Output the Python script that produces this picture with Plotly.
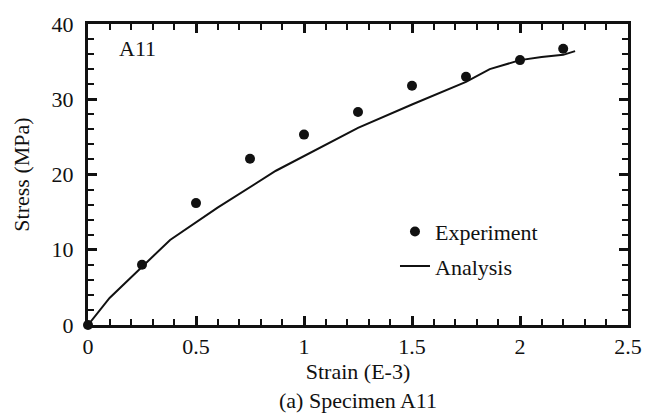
import plotly.graph_objects as go

# Experiment data
exp_strain = [0.0, 0.25, 0.5, 0.75, 1.0, 1.25, 1.5, 1.75, 2.0, 2.2]
exp_stress = [0.0, 8.0, 16.2, 22.1, 25.3, 28.3, 31.8, 33.0, 35.2, 36.7]

# Analysis curve
ana_strain = [0.0, 0.1, 0.38, 0.6, 0.87, 1.25, 1.5, 1.75, 1.86, 2.0, 2.1, 2.2, 2.255]
ana_stress = [0.0, 3.6, 11.3, 15.6, 20.5, 26.2, 29.3, 32.3, 34.0, 35.2, 35.6, 35.9, 36.4]

# Axis settings
x_range = [0, 2.5]
y_range = [0, 40]
x_ticks = [0, 0.5, 1, 1.5, 2, 2.5]
x_ticklabels = ["0", "0.5", "1", "1.5", "2", "2.5"]
y_ticks = [0, 10, 20, 30, 40]
y_ticklabels = ["0", "10", "20", "30", "40"]

FONT = "Liberation Serif"
FS = 22
INK = "#111111"

fig = go.Figure()
fig.add_trace(go.Scatter(
    x=exp_strain, y=exp_stress, mode="markers", name="Experiment",
    legendgroup="e",
    marker=dict(color=INK, size=10), cliponaxis=False))
fig.add_trace(go.Scatter(
    x=ana_strain, y=ana_stress, mode="lines", name="Analysis",
    legendgroup="a",
    line=dict(color=INK, width=2)))

tick_common = dict(
    showline=True, linecolor=INK, linewidth=2.5, mirror="allticks",
    ticks="inside", ticklen=9, tickwidth=2.5, tickcolor=INK,
    showgrid=False, zeroline=False, layer="above traces",
    tickfont=dict(family=FONT, size=FS, color=INK),
)
x_minor = dict(dtick=0.1, tick0=0, ticks="inside", ticklen=6, tickwidth=2, tickcolor=INK, showgrid=False)
y_minor = dict(dtick=2, tick0=0, ticks="inside", ticklen=6, tickwidth=2, tickcolor=INK, showgrid=False)

fig.update_layout(
    xaxis=dict(
        range=x_range, tickmode="array", tickvals=x_ticks, ticktext=x_ticklabels,
        minor=x_minor,
        title=dict(text="Strain (E-3)", font=dict(family=FONT, size=FS, color=INK), standoff=3),
        **tick_common),
    yaxis=dict(
        range=y_range, tickmode="array", tickvals=y_ticks,
        ticktext=[t + "\u2004" for t in y_ticklabels],
        minor=y_minor,
        title=dict(text="Stress (MPa)", font=dict(family=FONT, size=FS, color=INK), standoff=16),
        **tick_common),
)

fig.add_annotation(text="A11", xref="paper", yref="paper", x=0.091, y=0.917,
                   xanchor="center", yanchor="middle",
                   showarrow=False, font=dict(family=FONT, size=FS, color=INK))
fig.add_annotation(text="(a) Specimen A11", xref="paper", yref="paper", x=0.5, y=-0.252,
                   xanchor="center", yanchor="middle", showarrow=False,
                   font=dict(family=FONT, size=FS, color=INK))

fig.update_layout(
    width=659, height=418,
    margin=dict(l=88, r=31, t=15, b=93),
    paper_bgcolor="white", plot_bgcolor="rgba(0,0,0,0)",
    showlegend=True,
    legend=dict(x=0.5685, y=0.38, xanchor="left", yanchor="top",
                bgcolor="rgba(0,0,0,0)", tracegroupgap=3,
                font=dict(family=FONT, size=FS, color=INK)),
)

fig.write_html("out.html")
